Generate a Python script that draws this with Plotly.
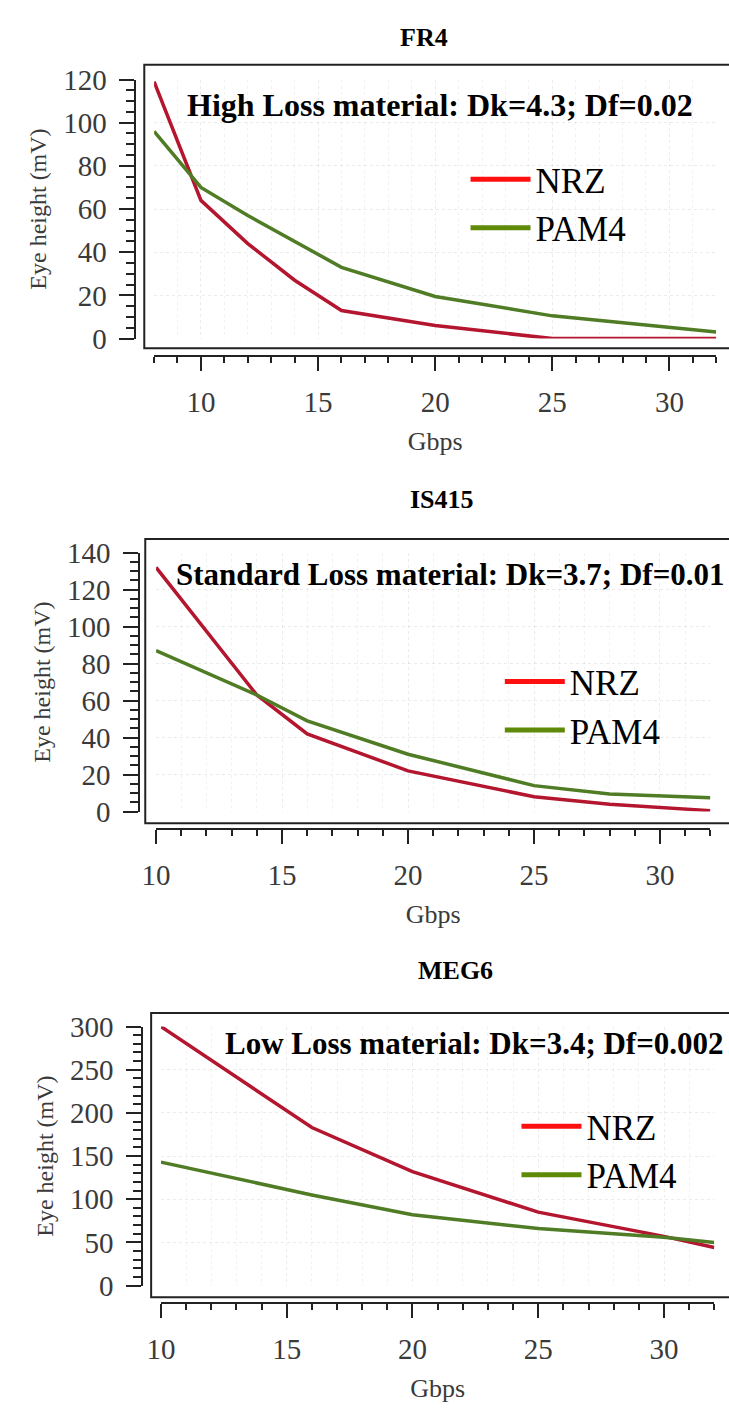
import plotly.graph_objects as go

W, H = 729, 1412

# ---------------- data ----------------
panel_titles = ["FR4", "IS415", "MEG6"]
material_notes = ["High Loss material: Dk=4.3; Df=0.02",
                  "Standard Loss material: Dk=3.7; Df=0.01",
                  "Low Loss material: Dk=3.4; Df=0.002"]

fr4_gbps = [8, 10, 12, 14, 16, 20, 25, 32]
fr4_nrz = [119, 64, 44, 27, 13, 6, 0, 0]
fr4_pam4 = [96, 70, 57, 45, 33, 19.5, 10.5, 3]

is415_gbps = [10, 14, 16, 20, 25, 28, 32]
is415_nrz = [132, 63, 42, 22, 8, 4, 0.5]
is415_pam4 = [87, 63, 49, 31, 14, 9.5, 7.5]

meg6_gbps = [10, 16, 20, 25, 30, 32]
meg6_nrz = [300, 183, 132, 85, 57, 44]
meg6_pam4 = [143, 105, 82, 66, 56, 50]

x_ranges = [[8, 32], [10, 32], [10, 32]]
y_ranges = [[0, 120], [0, 140], [0, 300]]
y_major = [20, 20, 50]
y_minor = [5, 5, 10]
x_major_vals = [5, 5, 5]

# ---------------- layout geometry (pixels) ----------------
def fx(px):
    return px / W

def fy(py):
    return 1 - py / H

geo = [
    dict(xd=(142, 716), yd=(330, 65), frame=(132, 50, 340), yax=123, xax=348,
         title=(418, 22), note=(174, 91), note_size=32, leg=(460, 137)),
    dict(xd=(144, 710), yd=(814, 549), frame=(133, 535, 826), yax=127, xax=832,
         title=(436, 495), note=(162, 571), note_size=31, leg=(495, 651)),
    dict(xd=(149, 714), yd=(1299, 1034), frame=(139, 1020, 1311), yax=130, xax=1317,
         title=(450, 977), note=(212, 1051), note_size=31, leg=(512, 1106)),
]

NRZ_LINE = "#b3162e"
PAM4_LINE = "#4f7c24"
NRZ_LEG = "#ff1010"
PAM4_LEG = "#5e8a08"

SERIF = "Liberation Serif, Times New Roman, serif"
TICK_COLOR = "#3a3a3a"

fig = go.Figure()

data = [(fr4_gbps, fr4_nrz, fr4_pam4),
        (is415_gbps, is415_nrz, is415_pam4),
        (meg6_gbps, meg6_nrz, meg6_pam4)]

shapes = []
annotations = []
layout_axes = {}

for i, (gx, nrz, pam4) in enumerate(data):
    n = i + 1
    xs = "" if n == 1 else str(n)
    g = geo[i]
    leg = "legend" if n == 1 else f"legend{n}"
    fig.add_trace(go.Scatter(x=gx, y=nrz, mode="lines", name="NRZ",
                             line=dict(color=NRZ_LINE, width=3.5),
                             xaxis=f"x{xs}", yaxis=f"y{xs}", legend=leg,
                             showlegend=False))
    fig.add_trace(go.Scatter(x=gx, y=pam4, mode="lines", name="PAM4",
                             line=dict(color=PAM4_LINE, width=3.5),
                             xaxis=f"x{xs}", yaxis=f"y{xs}", legend=leg,
                             showlegend=False))
    # legend-only traces with the bright legend colours
    fig.add_trace(go.Scatter(x=[None], y=[None], mode="lines", name="NRZ",
                             line=dict(color=NRZ_LEG, width=5),
                             xaxis=f"x{xs}", yaxis=f"y{xs}", legend=leg))
    fig.add_trace(go.Scatter(x=[None], y=[None], mode="lines", name="PAM4",
                             line=dict(color=PAM4_LEG, width=5),
                             xaxis=f"x{xs}", yaxis=f"y{xs}", legend=leg))

    layout_axes[f"xaxis{xs}"] = dict(
        domain=[fx(g["xd"][0]), fx(g["xd"][1])],
        range=x_ranges[i],
        anchor="free", position=fy(g["xax"]),
        showline=True, linecolor="#222", linewidth=2,
        ticks="outside", ticklen=14, tickwidth=2, tickcolor="#222",
        tick0=0, dtick=x_major_vals[i],
        tickfont=dict(family=SERIF, size=29, color=TICK_COLOR),
        ticklabelstandoff=6,
        showgrid=True, gridcolor="rgba(0,0,0,0.08)", griddash="dot", gridwidth=1,
        minor=dict(dtick=1, tick0=0, ticks="outside", ticklen=6, tickwidth=2,
                   tickcolor="#222", showgrid=True,
                   gridcolor="rgba(0,0,0,0.05)", griddash="dot"),
        zeroline=False,
        title=dict(text="Gbps", font=dict(family=SERIF, size=26, color=TICK_COLOR),
                   standoff=14),
    )
    layout_axes[f"yaxis{xs}"] = dict(
        domain=[fy(g["yd"][0]), fy(g["yd"][1])],
        range=y_ranges[i],
        anchor="free", position=fx(g["yax"]),
        showline=True, linecolor="#222", linewidth=2,
        ticks="outside", ticklen=15, tickwidth=2, tickcolor="#222",
        tick0=0, dtick=y_major[i],
        tickfont=dict(family=SERIF, size=29, color=TICK_COLOR),
        ticklabelstandoff=7,
        showgrid=True, gridcolor="rgba(0,0,0,0.08)", griddash="dot", gridwidth=1,
        minor=dict(dtick=y_minor[i], tick0=0, ticks="outside", ticklen=8, tickwidth=2,
                   tickcolor="#222", showgrid=False),
        zeroline=False,
        title=dict(text="Eye height (mV)",
                   font=dict(family=SERIF, size=24, color=TICK_COLOR),
                   standoff=9),
    )

    fl, ft, fb = g["frame"]
    shapes.append(dict(type="rect", xref="paper", yref="paper",
                       x0=fx(fl), x1=fx(W + 20), y0=fy(fb), y1=fy(ft),
                       line=dict(color="#222", width=2), layer="above"))

    annotations.append(dict(text=f"<b>{panel_titles[i]}</b>", xref="paper", yref="paper",
                            x=fx(g["title"][0]), y=fy(g["title"][1]),
                            xanchor="center", yanchor="middle", showarrow=False,
                            font=dict(family=SERIF, size=26, color="black")))
    annotations.append(dict(text=f"<b>{material_notes[i]}</b>", xref="paper", yref="paper",
                            x=fx(g["note"][0]), y=fy(g["note"][1]),
                            xanchor="left", yanchor="middle", showarrow=False,
                            font=dict(family=SERIF, size=g["note_size"], color="black")))

    layout_axes[leg] = dict(
        x=fx(g["leg"][0]), y=fy(g["leg"][1]), xanchor="left", yanchor="top",
        bgcolor="rgba(0,0,0,0)", borderwidth=0,
        font=dict(family=SERIF, size=35, color="black"),
        itemwidth=60, tracegroupgap=0,
    )

fig.update_layout(
    width=W, height=H,
    margin=dict(l=0, r=0, t=0, b=0),
    paper_bgcolor="white", plot_bgcolor="white",
    shapes=shapes, annotations=annotations,
    **layout_axes,
)

fig.write_html("out.html")
